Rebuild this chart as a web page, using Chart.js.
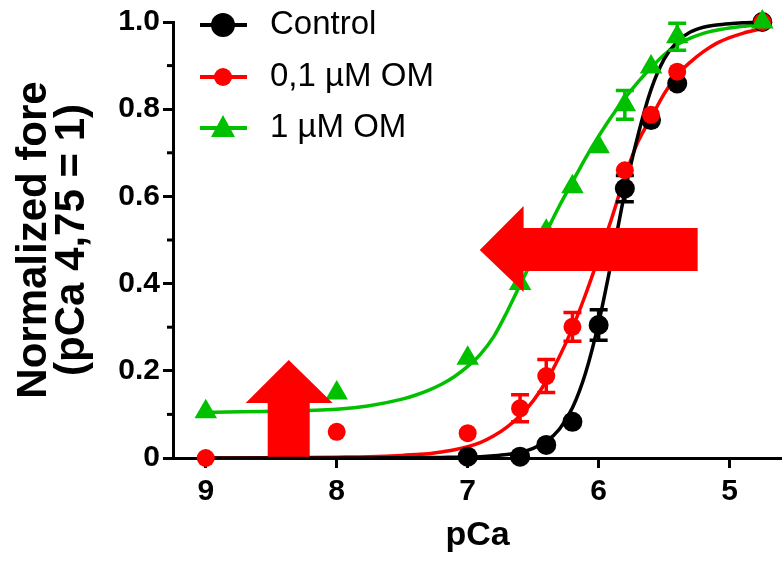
<!DOCTYPE html>
<html><head><meta charset="utf-8">
<script src="https://cdn.jsdelivr.net/npm/chart.js@4.4.1/dist/chart.umd.min.js"></script>
<style>html,body{margin:0;padding:0;background:#fff;}#wrap{width:782px;height:562px;}</style>
</head><body><div id="wrap"><canvas id="c" width="782" height="562"></canvas></div>
<script>
// ---- data ----
const pCaPoints = [9, 8, 7, 6.6, 6.4, 6.2, 6.0, 5.8, 5.6, 5.4, 4.75];
const controlPCa = [7, 6.6, 6.4, 6.2, 6.0, 5.8, 5.6, 5.4, 4.75];
const controlValues = [0.003, 0.003, 0.03, 0.083, 0.305, 0.618, 0.775, 0.859, 1.0];
const controlErrors = [0, 0, 0, 0, 0.035, 0.03, 0, 0, 0];
const om01Values = [0, 0.06, 0.057, 0.114, 0.188, 0.301, 0.47, 0.66, 0.787, 0.886, 1.0];
const om01Errors = [0, 0, 0, 0.031, 0.038, 0.033, 0, 0, 0, 0, 0];
const om1Values = [0.106, 0.149, 0.229, 0.40, 0.52, 0.622, 0.714, 0.81, 0.897, 0.966, 1.0];
const om1Errors = [0, 0, 0, 0, 0, 0, 0, 0.033, 0, 0.031, 0];

const curvePCa = [9, 8.5, 8, 7.75, 7.5, 7.4, 7.3, 7.2, 7.1, 7, 6.9, 6.8, 6.7, 6.6, 6.5, 6.4, 6.3, 6.2, 6.1, 6.0, 5.9, 5.8, 5.7, 5.6, 5.5, 5.4, 5.3, 5.2, 5.1, 5.0, 4.9, 4.75];
const controlFit = [0, 0, 0, 0, 0.0005, 0.0007, 0.001, 0.0013, 0.0017, 0.002, 0.003, 0.005, 0.008, 0.013, 0.022, 0.038, 0.066, 0.115, 0.195, 0.31, 0.455, 0.61, 0.74, 0.845, 0.915, 0.955, 0.977, 0.988, 0.993, 0.996, 0.998, 1.0];
const om01Fit = [0, 0.0005, 0.002, 0.003, 0.006, 0.008, 0.010, 0.014, 0.019, 0.026, 0.036, 0.051, 0.071, 0.097, 0.131, 0.176, 0.232, 0.298, 0.375, 0.46, 0.55, 0.645, 0.725, 0.78, 0.835, 0.878, 0.908, 0.932, 0.951, 0.964, 0.974, 0.985];
const om1Fit = [0.105, 0.107, 0.112, 0.12, 0.135, 0.144, 0.155, 0.169, 0.187, 0.21, 0.239, 0.279, 0.335, 0.397, 0.458, 0.518, 0.578, 0.633, 0.688, 0.738, 0.784, 0.825, 0.862, 0.895, 0.925, 0.948, 0.963, 0.974, 0.981, 0.986, 0.99, 0.995];

const xTickValues = [9, 8, 7, 6, 5];
const yTickValues = [0, 0.2, 0.4, 0.6, 0.8, 1.0];
const yMinorTickValues = [0.1, 0.3, 0.5, 0.7, 0.9];
const seriesLabels = ['Control', '0,1 \u00b5M OM', '1 \u00b5M OM'];
const xTitle = 'pCa';
const yTitle = ['Normalized fore', '(pCa 4,75 = 1)'];

// annotation arrows, in data units (pCa, normalized force)
const leftArrow = [[6.908, 0.477], [6.573, 0.578], [6.573, 0.5275], [5.244, 0.5275], [5.244, 0.429], [6.573, 0.429], [6.573, 0.381]];
const upArrow = [[8.366, 0.225], [8.031, 0.126], [8.206, 0.126], [8.206, 0.003], [8.527, 0.003], [8.527, 0.126], [8.695, 0.126]];

// ---- styles ----
const BLACK = '#000000', RED = '#ff0000', GREEN = '#00c000';
const FONT = '"Liberation Sans", Arial, Helvetica, sans-serif';
const pts = (xs, ys) => xs.map((x, i) => ({x: x, y: ys[i]}));

const errorPlugin = {
  id: 'errorBars',
  afterDatasetDraw(chart, args) {
    const ds = chart.data.datasets[args.index];
    if (!ds.errors) return;
    const ctx = chart.ctx, xs = chart.scales.x, ys = chart.scales.y;
    ctx.save();
    ctx.strokeStyle = ds.backgroundColor;
    ctx.lineWidth = 3.5;
    ds.data.forEach((p, i) => {
      const e = ds.errors[i];
      if (!e) return;
      const px = xs.getPixelForValue(p.x);
      const yt = ys.getPixelForValue(p.y + e), yb = ys.getPixelForValue(p.y - e);
      ctx.beginPath();
      ctx.moveTo(px, yt); ctx.lineTo(px, yb);
      ctx.moveTo(px - 9, yt); ctx.lineTo(px + 9, yt);
      ctx.moveTo(px - 9, yb); ctx.lineTo(px + 9, yb);
      ctx.stroke();
    });
    ctx.restore();
  }
};

const arrowPlugin = {
  id: 'arrows',
  afterDatasetsDraw(chart) {
    const ctx = chart.ctx, xs = chart.scales.x, ys = chart.scales.y;
    ctx.save();
    ctx.fillStyle = RED;
    [leftArrow, upArrow].forEach(poly => {
      ctx.beginPath();
      poly.forEach((p, i) => {
        const px = xs.getPixelForValue(p[0]), py = ys.getPixelForValue(p[1]);
        if (i === 0) ctx.moveTo(px, py); else ctx.lineTo(px, py);
      });
      ctx.closePath();
      ctx.fill();
    });
    ctx.restore();
  }
};

const extrasPlugin = {
  id: 'extras',
  afterDraw(chart) {
    const ctx = chart.ctx, ys = chart.scales.y, area = chart.chartArea;
    ctx.save();
    // minor y ticks
    ctx.strokeStyle = BLACK; ctx.lineWidth = 3;
    yMinorTickValues.forEach(v => {
      const py = ys.getPixelForValue(v);
      ctx.beginPath(); ctx.moveTo(area.left - 6, py); ctx.lineTo(area.left, py); ctx.stroke();
    });
    // legend
    const colors = [BLACK, RED, GREEN];
    const rows = [25, 77, 128];
    ctx.font = '33px ' + FONT;
    ctx.textBaseline = 'middle';
    ctx.textAlign = 'left';
    seriesLabels.forEach((lab, i) => {
      const y = rows[i];
      ctx.strokeStyle = colors[i]; ctx.fillStyle = colors[i]; ctx.lineWidth = 4;
      ctx.beginPath(); ctx.moveTo(200, y); ctx.lineTo(247, y); ctx.stroke();
      ctx.beginPath();
      if (i === 2) {
        ctx.moveTo(223, y - 13); ctx.lineTo(235, y + 9); ctx.lineTo(211, y + 9); ctx.closePath();
      } else {
        ctx.arc(223, y, i === 0 ? 12 : 9, 0, Math.PI * 2);
      }
      ctx.fill();
      ctx.fillStyle = BLACK;
      ctx.fillText(lab, 270, y);
    });
    ctx.restore();
  }
};

const curveStyle = (color) => ({showLine: true, borderColor: color, borderWidth: 3.5, pointRadius: 0, pointHoverRadius: 0, cubicInterpolationMode: 'monotone', clip: false, fill: false});
const pointStyle = (color, style, r) => ({showLine: false, backgroundColor: color, borderColor: color, borderWidth: 0, pointStyle: style, pointRadius: r, pointHoverRadius: r, clip: false});

new Chart(document.getElementById('c'), {
  type: 'scatter',
  data: {
    datasets: [
      Object.assign({label: seriesLabels[2] + ' fit', data: pts(curvePCa, om1Fit), order: 6}, curveStyle(GREEN)),
      Object.assign({label: seriesLabels[1] + ' fit', data: pts(curvePCa, om01Fit), order: 5}, curveStyle(RED)),
      Object.assign({label: seriesLabels[0] + ' fit', data: pts(curvePCa, controlFit), order: 4}, curveStyle(BLACK)),
      Object.assign({label: seriesLabels[0], data: pts(controlPCa, controlValues), errors: controlErrors, order: 3}, pointStyle(BLACK, 'circle', 10)),
      Object.assign({label: seriesLabels[1], data: pts(pCaPoints, om01Values), errors: om01Errors, order: 2}, pointStyle(RED, 'circle', 9)),
      Object.assign({label: seriesLabels[2], data: pts(pCaPoints, om1Values), errors: om1Errors, order: 1}, pointStyle(GREEN, 'triangle', 13))
    ]
  },
  options: {
    responsive: false,
    animation: false,
    devicePixelRatio: 1,
    layout: {autoPadding: false, padding: {top: 22, right: 0, left: 0, bottom: 0}},
    plugins: {legend: {display: false}, tooltip: {enabled: false}},
    scales: {
      x: {
        type: 'linear', position: 'bottom', reverse: true, min: 4.6, max: 9.25,
        afterBuildTicks: s => { s.ticks = xTickValues.map(v => ({value: v})); },
        afterFit: s => { s.height = 104; s.paddingLeft = 0; s.paddingRight = 0; },
        ticks: {color: BLACK, font: {family: FONT, size: 30, weight: 'bold'}, padding: 6, callback: v => String(v)},
        grid: {drawOnChartArea: false, drawTicks: true, tickLength: 10, tickWidth: 3, tickColor: BLACK},
        border: {display: true, color: BLACK, width: 3},
        title: {display: true, text: xTitle, color: BLACK, font: {family: FONT, size: 34, weight: 'bold'}, padding: {top: 0, bottom: 6}}
      },
      y: {
        type: 'linear', position: 'left', min: 0, max: 1,
        afterBuildTicks: s => { s.ticks = yTickValues.map(v => ({value: v})); },
        afterFit: s => { s.width = 173; s.paddingTop = 0; s.paddingBottom = 0; },
        ticks: {color: BLACK, font: {family: FONT, size: 30, weight: 'bold'}, padding: 3, callback: v => (v === 0 ? '0' : v.toFixed(1))},
        grid: {drawOnChartArea: false, drawTicks: true, tickLength: 10, tickWidth: 3, tickColor: BLACK},
        border: {display: true, color: BLACK, width: 3},
        title: {display: true, text: yTitle, color: BLACK, font: {family: FONT, size: 42, weight: 'bold', lineHeight: '38px'}, padding: {top: 15, bottom: 0}}
      }
    }
  },
  plugins: [errorPlugin, arrowPlugin, extrasPlugin]
});
</script>
</body></html>
